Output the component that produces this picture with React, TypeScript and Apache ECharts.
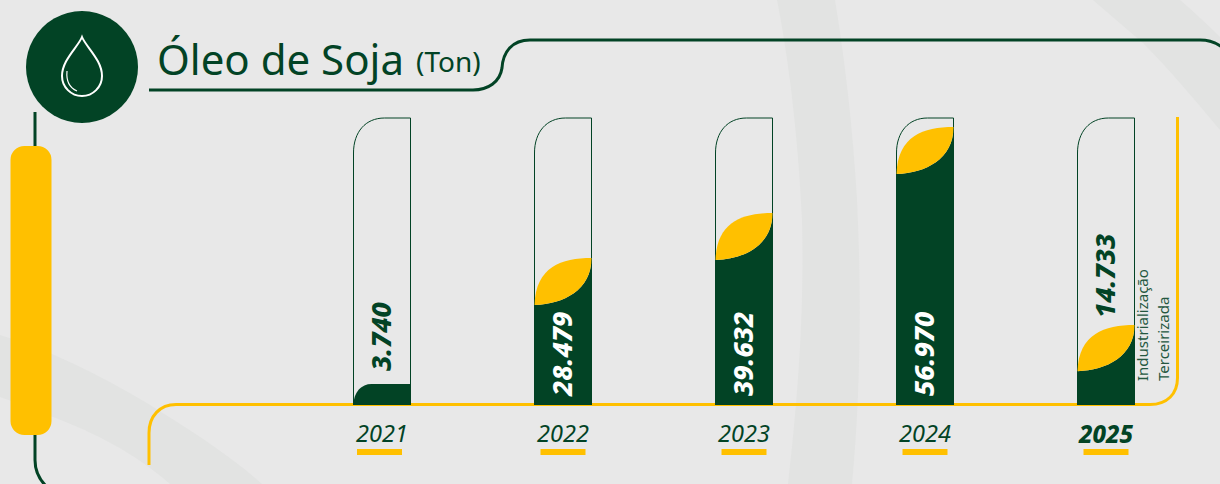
import React, { useEffect, useRef } from "react";
import * as echarts from "echarts";

const years = ["2021", "2022", "2023", "2024", "2025"];
const valueLabels = ["3.740", "28.479", "39.632", "56.970", "14.733"];
// Fill of each capsule as drawn in the picture, in % of the capsule height
const fillLevels = [7.3, 34.8, 50.5, 80.5, 11.8];
// Level reached by the tip of the yellow leaf (2021 has no leaf)
const leafTips = [null, 51.2, 66.9, 96.9, 27.9];
const legendLabels = ["Industrialização", "Terceirizada"];
const titleText = "Óleo de Soja";
const unitText = "(Ton)";

const GREEN = "#024325";
const YELLOW = "#ffc000";
const BG = "#e8e8e8";
const BAND = "#e2e3e2";
const FONT = "'Noto Sans', sans-serif";

const shapes: Record<string, string> = {
  bandA: "M777,0 C787,50 798,130 802,220 C804,300 800,380 788,484 L852,484 C860,400 862,300 857,200 C853,130 845,60 835,0 Z",
  bandB: "M1093,0 L1143,43 C1170,70 1195,100 1220,130 L1220,37 C1208,25 1195,13 1180,0 Z",
  bandC: "M0,335 C50,350 100,375 147,403 C190,430 230,455 262,484 L170,484 C135,453 95,433 53,417 C35,410 18,403 0,397 Z",
  yellowFrame: "M149,465 L149,433 C149,416 160,404.5 176,404.5 L1150,404.5 C1167,404.5 1177.5,394 1177.5,378 L1177.5,117",
  greenFrame: "M35,112 L35,460 C35,471 39,479 46,486",
  titleLine: "M149,90 L473,90 C488,90 500,82 502,68 C503,52 512,40 530,40 L1200,40 C1208,40 1215,42 1222,47",
  drop: "M82,37 C78,47 62,60 62,76 C62,87 71,96 82,96 C93,96 102,87 102,76 C102,60 86,47 82,37 Z",
  dropShine: "M67,71 C66,82 70,88 77,91",
};
Object.keys(shapes).forEach((k) => {
  echarts.graphic.registerShape(k, echarts.graphic.extendPath(shapes[k], {}) as any);
});

const pathEl = (type: string, style: any, z = 1) => ({ type, x: 0, y: 0, style, z });

function renderColumn(params: any, api: any) {
  const idx = api.value(0);
  const fill = api.value(1);
  const tip = api.value(2);
  const hasLeaf = !isNaN(tip) && tip != null;
  const [cx, yFill] = api.coord([idx, fill]);
  const base = api.coord([idx, 0])[1];
  const top = api.coord([idx, 100])[1];
  const L = cx - 28.5;
  const R = cx + 28.5;
  const children: any[] = [];

  children.push({
    type: "path",
    shape: { pathData: `M${L},${base} L${L},${top + 35} C${L},${top + 14} ${L + 12},${top} ${L + 31},${top} L${R},${top} L${R},${base}` },
    style: { fill: "none", stroke: GREEN, lineWidth: 1 },
  });

  let outsideBottom = yFill;
  if (hasLeaf) {
    const yTip = api.coord([idx, tip])[1];
    outsideBottom = yTip;
    const lower = `C${L + 29},${yFill - 1} ${R},${yFill - 15} ${R},${yTip}`;
    children.push({
      type: "path",
      shape: { pathData: `M${L},${base} L${L},${yFill} ${lower} L${R},${base} Z` },
      style: { fill: GREEN },
    });
    children.push({
      type: "path",
      shape: { pathData: `M${L},${yFill} ${lower} C${R - 30},${yTip} ${L + 1},${yTip + 9} ${L},${yFill} Z` },
      style: { fill: YELLOW },
    });
  } else {
    children.push({
      type: "path",
      shape: { pathData: `M${L},${base} C${L},${yFill + 8} ${L + 8},${yFill} ${L + 18},${yFill} L${R},${yFill} L${R},${base} Z` },
      style: { fill: GREEN },
    });
  }

  const inside = base - outsideBottom > 90;
  children.push({
    type: "text",
    x: cx - 1.5,
    y: inside ? base - 9 : outsideBottom - (hasLeaf ? 7 : 13),
    rotation: Math.PI / 2,
    style: {
      text: valueLabels[idx],
      x: 0,
      y: 0,
      align: "left",
      verticalAlign: "middle",
      fontFamily: FONT,
      fontSize: 27,
      fontWeight: 800,
      fontStyle: "italic",
      fill: inside && hasLeaf ? "#ffffff" : GREEN,
    },
  });

  children.push({
    type: "rect",
    shape: { x: cx - 22.5 - (idx === 0 ? 2.5 : 0), y: base + 44, width: 45, height: 6 },
    style: { fill: YELLOW },
  });

  return { type: "group", children };
}

export default function App() {
  const ref = useRef<HTMLDivElement>(null);
  useEffect(() => {
    document.body.style.margin = "0";
    const chart = echarts.init(ref.current!, undefined, { renderer: "svg" });
    chart.setOption({
      animation: false,
      backgroundColor: BG,
      grid: { left: 291.5, right: 23.5, top: 118, bottom: 79 },
      xAxis: {
        type: "category",
        data: years,
        axisLine: { show: false },
        axisTick: { show: false },
        splitLine: { show: false },
        axisLabel: {
          margin: 16,
          fontFamily: FONT,
          fontSize: 23.5,
          fontStyle: "italic",
          color: GREEN,
          formatter: (v: string, i: number) => (i === years.length - 1 ? `{b|${v}}` : v),
          rich: {
            b: { fontFamily: FONT, fontSize: 24, fontStyle: "italic", fontWeight: 800, color: GREEN },
          },
        },
      },
      yAxis: { type: "value", min: 0, max: 100, show: false },
      graphic: {
        elements: [
          pathEl("bandA", { fill: BAND }, -10),
          pathEl("bandB", { fill: BAND }, -10),
          pathEl("bandC", { fill: BAND }, -10),
          pathEl("greenFrame", { fill: "none", stroke: GREEN, lineWidth: 3 }),
          pathEl("titleLine", { fill: "none", stroke: GREEN, lineWidth: 3 }),
          { type: "circle", shape: { cx: 82, cy: 67, r: 56 }, style: { fill: GREEN }, z: 2 },
          pathEl("drop", { fill: "none", stroke: "#ffffff", lineWidth: 2 }, 3),
          pathEl("dropShine", { fill: "none", stroke: "#ffffff", lineWidth: 1.2 }, 3),
          { type: "rect", shape: { x: 10.5, y: 146, width: 41, height: 289, r: 14 }, style: { fill: YELLOW }, z: 3 },
          pathEl("yellowFrame", { fill: "none", stroke: YELLOW, lineWidth: 3 }, 0),
          {
            type: "text",
            x: 157,
            y: 58,
            style: { text: titleText, fontFamily: FONT, fontSize: 42, fill: GREEN, align: "left", verticalAlign: "middle" },
            z: 3,
          },
          {
            type: "text",
            x: 416,
            y: 61,
            style: { text: unitText, fontFamily: FONT, fontSize: 28, fill: GREEN, align: "left", verticalAlign: "middle" },
            z: 3,
          },
          ...legendLabels.map((t, i) => ({
            type: "text",
            x: 1141.5 + i * 21,
            y: 381,
            rotation: Math.PI / 2,
            style: { text: t, fontFamily: FONT, fontSize: 15, fill: "#24573f", align: "left", verticalAlign: "middle" },
            z: 3,
          })),
        ],
      },
      series: [
        {
          type: "custom",
          coordinateSystem: "cartesian2d",
          renderItem: renderColumn,
          encode: { x: 0, y: 1 },
          z: 5,
          clip: false,
          data: years.map((_, i) => [i, fillLevels[i], leafTips[i] == null ? NaN : leafTips[i]]),
        },
      ],
    });
    return () => chart.dispose();
  }, []);
  return <div ref={ref} style={{ position: "fixed", left: 0, top: 0, width: 1220, height: 484 }} />;
}
